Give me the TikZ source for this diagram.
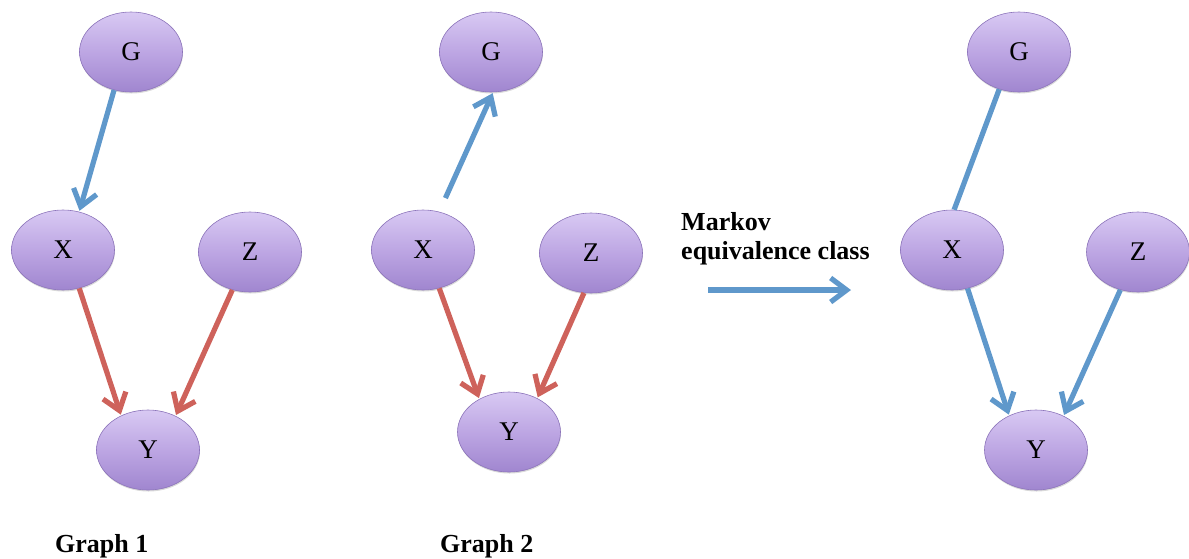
\documentclass[tikz,border=0pt]{standalone}
\usepackage{fontspec}
\setmainfont{Liberation Serif}
\usetikzlibrary{arrows.meta,shapes.geometric,shadows}
\definecolor{nodetop}{HTML}{D8C9F3}
\definecolor{nodemid}{HTML}{BDA6E3}
\definecolor{nodebot}{HTML}{A086CF}
\definecolor{nodeedge}{HTML}{8C74BA}
\definecolor{eblue}{HTML}{5F98CB}
\definecolor{ered}{HTML}{CE625B}

\begin{document}
\begin{tikzpicture}[
				x=1pt,y=-1pt,
				var/.style={ellipse,draw=nodeedge,line width=0.6pt,top color=nodetop,bottom color=nodebot,
					middle color=nodemid,
					minimum width=103pt,minimum height=80pt,inner sep=0pt,
					font=\fontsize{27}{27}\selectfont,
					drop shadow={opacity=0.3,shadow xshift=0.5pt,shadow yshift=-1.5pt}},
				bluelink/.style={line width=5.2pt,eblue},
				redlink/.style={line width=5.2pt,ered},
				tip/.style={-{Straight Barb[length=16pt,width=24pt]},shorten >=1pt},
				lbl/.style={font=\bfseries\fontsize{26}{29}\selectfont,inner sep=0pt,align=left},
				]
				\useasboundingbox (0,0) rectangle (1189,558);
				
				% graph 1
				\node[var] (g1) at (131,52) {G};
				\node[var] (x1) at (63,250) {X};
				\node[var] (z1) at (250,252) {Z};
				\node[var] (y1) at (148,450) {Y};
				
				% graph 2
				\node[var] (g2) at (491,52) {G};
				\node[var] (x2) at (423,250) {X};
				\node[var] (z2) at (591,253) {Z};
				\node[var] (y2) at (509,432) {Y};
				
				% equivalence class
				\node[var] (g3) at (1019,52) {G};
				\node[var] (x3) at (952,250) {X};
				\node[var] (z3) at (1138,252) {Z};
				\node[var] (y3) at (1036,450) {Y};
				
				\draw[bluelink,tip] (g1.246) -- (x1.67);
				\foreach \a/\b in {x1.293/y1.128,z1.245/y1.51,x2.293/y2.132,z2.260/y2.50}
				{\draw[redlink,tip] (\a) -- (\b);}
				\draw[bluelink,tip,shorten <=15pt] (x2.67) -- (g2.273);
				\draw[bluelink] (g3.242) -- (x3.87);
				\foreach \a/\b in {x3.292/y3.128,z3.245/y3.51}
				{\draw[bluelink,tip] (\a) -- (\b);}
				
				\node[lbl,anchor=north west] (markov) at (681,212) {Markov\\equivalence class};
				\coordinate (mfrom) at (708,290);
				\coordinate (mto) at (852,290);
				\draw[bluelink,tip] (mfrom) -- (mto);
				
				\node[lbl,anchor=base west] (cap1) at (55,552) {Graph 1};
				\node[lbl,anchor=base west] (cap2) at (440,552) {Graph 2};
		\end{tikzpicture}
\end{document}
